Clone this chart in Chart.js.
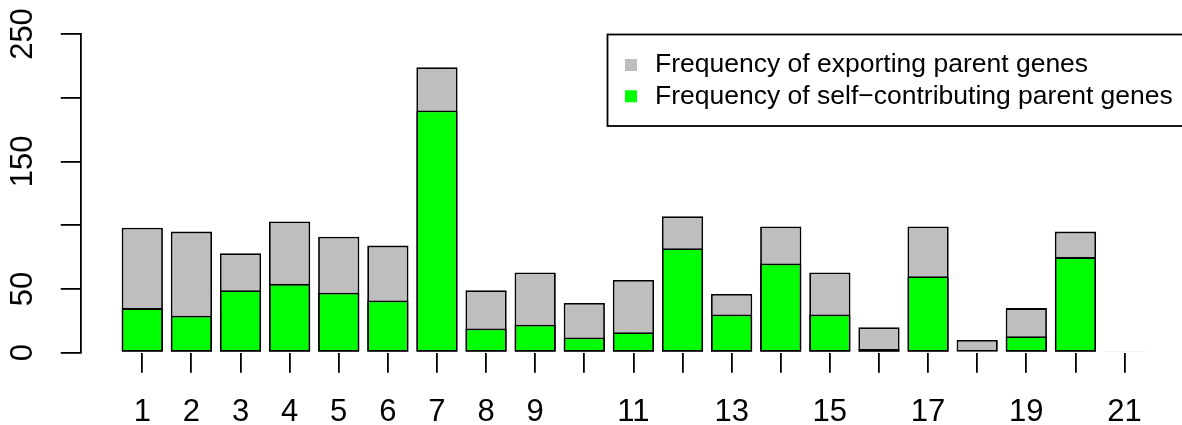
<!DOCTYPE html>
<html lang="en">
<head>
    <meta charset="UTF-8" />
    <title>Parent genes per chromosome</title>
    <script src="https://cdn.jsdelivr.net/npm/chart.js"></script>
    <style>
        body { margin: 0; background: #fff; }
        #wrap { width: 1182px; height: 425px; }
    </style>
</head>
<body>
    <div id="wrap"><canvas id="barChart"></canvas></div>

    <script>
        // chromosomes 1..21
        const chromosomes = [1, 2, 3, 4, 5, 6, 7, 8, 9, 10, 11, 12, 13, 14, 15, 16, 17, 18, 19, 20, 21];
        // R drops labels that would overlap, so only some are shown
        const xTickLabels = ['1', '2', '3', '4', '5', '6', '7', '8', '9', '', '11', '', '13', '', '15', '', '17', '', '19', '', '21'];
        const exporting = [98, 95, 78, 103, 91, 84, 224, 49, 63, 39, 57, 107, 46, 99, 63, 20, 99, 10, 35, 95, 1];
        const selfContributing = [35, 29, 49, 54, 47, 41, 190, 19, 22, 12, 16, 82, 30, 70, 30, 3, 60, 1, 13, 75, 0];
        const yTicks = [0, 50, 100, 150, 200, 250];
        const yTickLabels = ['0', '50', '', '150', '', '250'];
        const legendLabels = ['Frequency of exporting parent genes', 'Frequency of self\u2212contributing parent genes'];
        const legendColors = ['#bebebe', '#00ff00'];

        const FONT = '"Liberation Sans", Arial, Helvetica, sans-serif';
        Chart.defaults.font.family = FONT;
        Chart.defaults.font.size = 26.5;
        Chart.defaults.color = '#000';

        // legend box in the top right of the plot, like legend("topright")
        const boxLegend = {
            id: 'boxLegend',
            afterDraw(chart) {
                const ctx = chart.ctx;
                ctx.save();
                ctx.strokeStyle = '#000';
                ctx.lineWidth = 1.8;
                ctx.strokeRect(607.5, 34.5, 600, 91.5);
                ctx.font = '26.5px ' + FONT;
                ctx.textBaseline = 'middle';
                ctx.textAlign = 'left';
                const rows = [65, 96.3];
                legendLabels.forEach((txt, i) => {
                    ctx.fillStyle = legendColors[i];
                    ctx.fillRect(625, rows[i] - 6, 12, 12);
                    ctx.fillStyle = '#000';
                    ctx.fillText(txt, 655, rows[i]);
                });
                ctx.restore();
            }
        };

        const ctx = document.getElementById('barChart').getContext('2d');
        const barChart = new Chart(ctx, {
            type: 'bar',
            data: {
                datasets: [{
                    label: legendLabels[1],
                    data: chromosomes.map((c, i) => ({ x: c, y: selfContributing[i] })),
                    backgroundColor: legendColors[1],
                    order: 0
                }, {
                    label: legendLabels[0],
                    data: chromosomes.map((c, i) => ({ x: c, y: exporting[i] })),
                    backgroundColor: legendColors[0],
                    order: 1
                }]
            },
            options: {
                responsive: true,
                maintainAspectRatio: false,
                animation: false,
                layout: { padding: { top: 34, right: 0, bottom: 0, left: 0 } },
                datasets: {
                    bar: {
                        grouped: false,
                        borderColor: '#000',
                        borderWidth: 1.8,
                        borderSkipped: false,
                        barPercentage: 0.84,
                        categoryPercentage: 1
                    }
                },
                plugins: {
                    legend: { display: false },
                    tooltip: { enabled: false }
                },
                scales: {
                    x: {
                        type: 'linear',
                        offset: false,
                        min: -0.254,
                        max: 22.17,
                        afterBuildTicks: (scale) => {
                            scale.ticks = chromosomes.map(v => ({ value: v }));
                        },
                        afterFit: (scale) => { scale.height = 72.3; },
                        border: { display: false },
                        grid: {
                            offset: false,
                            drawOnChartArea: false,
                            tickLength: 20,
                            color: '#000',
                            lineWidth: 1.8
                        },
                        ticks: {
                            autoSkip: false,
                            maxRotation: 0,
                            padding: 21.5,
                            font: { family: FONT, size: 31 },
                            callback: (value) => xTickLabels[chromosomes.indexOf(value)] ?? ''
                        }
                    },
                    y: {
                        min: 0,
                        max: 250,
                        afterBuildTicks: (scale) => {
                            scale.ticks = yTicks.map(v => ({ value: v }));
                        },
                        afterFit: (scale) => { scale.width = 80.7; },
                        border: { display: true, color: '#000', width: 1.8 },
                        grid: {
                            drawOnChartArea: false,
                            tickLength: 20,
                            color: '#000',
                            lineWidth: 1.8
                        },
                        ticks: {
                            minRotation: 90,
                            maxRotation: 90,
                            crossAlign: 'center',
                            padding: 11,
                            font: { family: FONT, size: 31 },
                            callback: (value) => yTickLabels[yTicks.indexOf(value)] ?? ''
                        }
                    }
                }
            },
            plugins: [boxLegend]
        });
    </script>
</body>
</html>
